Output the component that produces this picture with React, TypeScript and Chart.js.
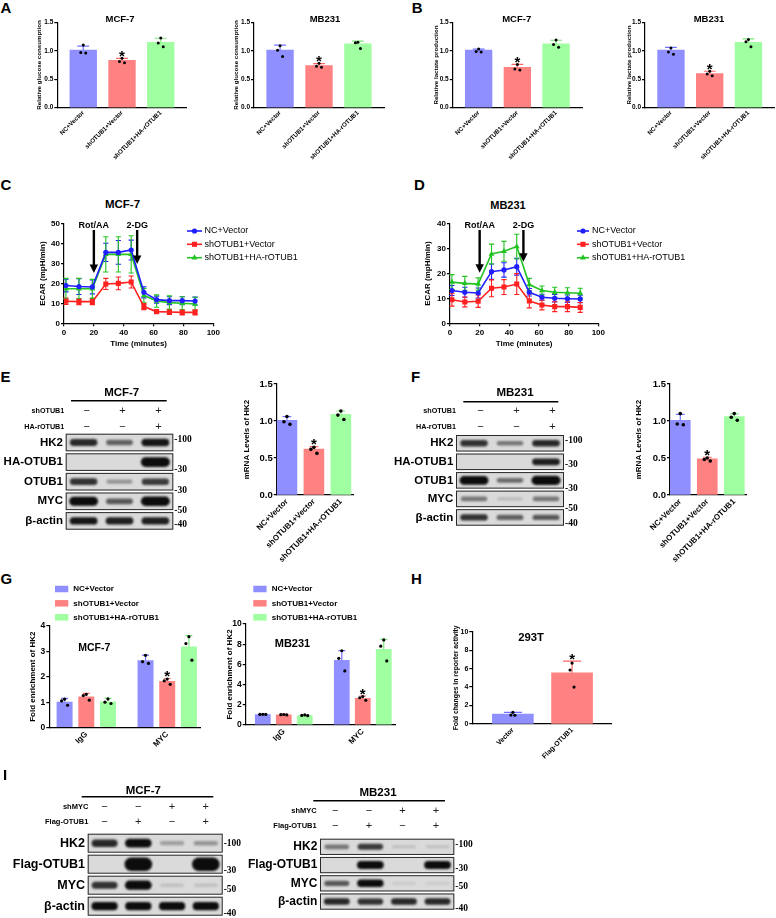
import React, { useEffect, useRef } from "react";
import { Chart, registerables } from "chart.js";

Chart.register(...registerables);

const SANS = "Arial, 'Liberation Sans', Helvetica, sans-serif";
const SERIF = "'Times New Roman', 'Liberation Serif', serif";

const BLUE = "#8f8fff", RED = "#ff8282", GREEN = "#a0ffa0";
const BLUE_E = "#7070ff", RED_E = "#ff6666", GREEN_E = "#7aea7a";
const L_BLUE = "#1f1fff", L_RED = "#ff2020", L_GREEN = "#22c322";

// ---------------- categories ----------------
const treatments = ["NC+Vector", "shOTUB1+Vector", "shOTUB1+HA-rOTUB1"];
const chipTargets = ["IgG", "MYC"];
const reporterGroups = ["Vector", "Flag-OTUB1"];
const sigVsNC = [false, true, false];

// ---------------- A: glucose consumption ----------------
const glucMCF7Mean = [1.01, 0.83, 1.15];
const glucMCF7SD = [0.07, 0.035, 0.07];
const glucMCF7Reps = [[1.1, 0.97, 0.96], [0.867, 0.81, 0.79], [1.224, 1.137, 1.072]];
const glucMB231Mean = [1.01, 0.74, 1.12];
const glucMB231SD = [0.09, 0.035, 0.05];
const glucMB231Reps = [[1.09, 1.01, 0.9], [0.78, 0.73, 0.71], [1.15, 1.14, 1.04]];

// ---------------- B: lactate production ----------------
const lacMCF7Mean = [1.01, 0.71, 1.12];
const lacMCF7SD = [0.02, 0.05, 0.065];
const lacMCF7Reps = [[1.03, 0.985, 0.98], [0.76, 0.68, 0.66], [1.19, 1.11, 1.06]];
const lacMB231Mean = [1.01, 0.6, 1.15];
const lacMB231SD = [0.05, 0.04, 0.06];
const lacMB231Reps = [[1.05, 0.98, 0.94], [0.64, 0.59, 0.56], [1.2, 1.16, 1.07]];

// ---------------- C / D: ECAR ----------------
const ecarTimes = [1.3, 10.0, 19.0, 28.0, 36.4, 45.0, 53.5, 62.0, 70.6, 79.2, 87.8];
const ecarMCF7NC = [19.0, 18.5, 18.3, 35.7, 35.7, 36.9, 15.6, 11.9, 11.4, 11.4, 11.2];
const ecarMCF7NCsd = [3.2, 4.0, 3.5, 4.6, 6.0, 5.0, 2.8, 1.8, 2.0, 2.0, 2.0];
const ecarMCF7Sh = [11.1, 10.9, 10.9, 19.8, 20.1, 20.8, 8.4, 5.9, 5.7, 5.5, 5.5];
const ecarMCF7Shsd = [1.6, 1.5, 1.5, 2.8, 3.2, 3.0, 1.5, 0.8, 1.3, 1.3, 1.3];
const ecarMCF7Re = [17.4, 17.4, 17.4, 34.7, 34.7, 34.7, 14.1, 11.2, 10.4, 10.1, 9.7];
const ecarMCF7Resd = [5.2, 5.2, 4.7, 8.9, 8.9, 9.4, 3.5, 3.1, 3.4, 3.3, 3.4];
const ecarMB231NC = [13.2, 12.5, 12.2, 20.8, 21.5, 22.8, 12.5, 10.5, 10.1, 9.9, 9.8];
const ecarMB231NCsd = [2.0, 2.0, 2.0, 3.1, 2.9, 3.4, 1.5, 1.2, 1.5, 1.5, 1.5];
const ecarMB231Sh = [9.5, 8.6, 8.9, 14.1, 14.6, 15.8, 9.0, 7.4, 6.7, 6.7, 6.4];
const ecarMB231Shsd = [2.6, 2.0, 2.5, 3.4, 3.0, 4.2, 2.8, 2.0, 2.0, 2.0, 2.0];
const ecarMB231Re = [16.6, 16.1, 15.8, 27.9, 29.0, 30.9, 15.6, 13.2, 12.5, 12.3, 12.1];
const ecarMB231Resd = [3.0, 2.8, 2.5, 4.0, 4.0, 5.0, 2.5, 1.8, 2.0, 2.0, 2.0];
const injections = ["Rot/AA", "2-DG"];
const injTimeMCF7 = [20, 49];
const injTimeMB231 = [20, 49.5];
const arrowTopMCF7 = [47, 47];
const arrowTipMCF7 = [25.3, 29.8];
const arrowTopMB231 = [37.6, 37.6];
const arrowTipMB231 = [20.4, 24.8];

// ---------------- E / F: HK2 mRNA ----------------
const hk2MCF7Mean = [1.01, 0.62, 1.09];
const hk2MCF7SD = [0.05, 0.035, 0.045];
const hk2MCF7Reps = [[1.06, 0.99, 0.955], [0.644, 0.617, 0.563], [1.135, 1.08, 1.02]];
const hk2MB231Mean = [1.01, 0.49, 1.06];
const hk2MB231SD = [0.08, 0.02, 0.035];
const hk2MB231Reps = [[1.1, 0.96, 0.95], [0.5, 0.48, 0.46], [1.1, 1.05, 1.01]];

// ---------------- G: ChIP ----------------
const chipMCF7NC = [1.02, 2.65];
const chipMCF7NCsd = [0.13, 0.2];
const chipMCF7NCreps = [[1.12, 1.05, 0.88], [2.84, 2.59, 2.52]];
const chipMCF7Sh = [1.22, 1.83];
const chipMCF7Shsd = [0.13, 0.1];
const chipMCF7Shreps = [[1.31, 1.26, 1.08], [1.91, 1.84, 1.7]];
const chipMCF7Re = [1.03, 3.18];
const chipMCF7Resd = [0.12, 0.43];
const chipMCF7Rereps = [[1.13, 1.0, 0.95], [3.57, 3.3, 2.65]];
const chipMB231NC = [1.06, 6.44];
const chipMB231NCsd = [0.02, 0.92];
const chipMB231NCreps = [[1.06, 1.05, 1.05], [7.35, 6.6, 5.35]];
const chipMB231Sh = [1.05, 2.67];
const chipMB231Shsd = [0.03, 0.2];
const chipMB231Shreps = [[1.04, 1.02, 1.0], [2.82, 2.7, 2.45]];
const chipMB231Re = [0.96, 7.52];
const chipMB231Resd = [0.05, 0.96];
const chipMB231Rereps = [[1.0, 0.95, 0.92], [8.42, 7.8, 6.34]];
const chipSig = [false, true];

// ---------------- H: reporter ----------------
const reporterMean = [1.08, 5.55];
const reporterSD = [0.18, 1.27];
const reporterReps = [[1.26, 0.97, 0.95], [6.6, 5.85, 4.0]];
const reporterSig = [false, true];

// ---------------- Western blots ----------------
const blotERows = ["HK2", "HA-OTUB1", "OTUB1", "MYC", "β-actin"];
const blotEBands = [[0.85, 0.55, 0.95], [0, 0, 1.4], [0.8, 0.3, 0.75], [1.3, 0.6, 1.35], [0.95, 0.9, 0.9]];
const blotEMw = ["100", "30", "30", "50", "40"];
const blotEMwPos = [0.35, 1.87, 2.97, 3.98, 4.71];
const blotFRows = ["HK2", "HA-OTUB1", "OTUB1", "MYC", "β-actin"];
const blotFBands = [[0.8, 0.45, 0.85], [0, 0, 0.9], [1.3, 0.5, 1.4], [0.45, 0.12, 0.45], [0.8, 0.55, 0.6]];
const blotFMw = ["100", "30", "30", "50", "40"];
const blotFMwPos = [0.36, 1.67, 2.93, 4.0, 4.82];
const shOTUB1Signs = ["−", "+", "+"];
const haOTUB1Signs = ["−", "−", "+"];
const blotIRows = ["HK2", "Flag-OTUB1", "MYC", "β-actin"];
const blotIMCF7Bands = [[0.85, 1.1, 0.25, 0.3], [0, 2.0, 0, 2.0], [0.8, 1.2, 0.1, 0.1], [1.0, 1.0, 1.0, 1.0]];
const blotIMCF7Mw = ["100", "30", "50", "40"];
const blotIMCF7MwPos = [0.5, 1.78, 2.73, 3.87];
const blotIMB231Bands = [[0.45, 0.75, 0.1, 0.1], [0, 1.2, 0, 1.2], [0.6, 1.1, 0.06, 0.06], [0.85, 0.8, 0.85, 0.85]];
const blotIMB231Mw = ["100", "30", "50", "40"];
const blotIMB231MwPos = [0.4, 1.68, 2.68, 3.87];
const shMYCSigns = ["−", "−", "+", "+"];
const flagOTUB1Signs = ["−", "+", "−", "+"];

// =====================================================================

function font(size: number, bold = true, fam = SANS) {
  return `${bold ? "bold " : ""}${size}px ${fam}`;
}

function barChart(o: any) {
  const [bl, bt, br, bb] = o.box;
  const [al, at, ar, ab] = o.area;
  const yW = al - bl, xH = bb - ab;
  const decor = {
    id: "barDecor",
    afterDatasetsDraw(chart: any) {
      const ctx = chart.ctx;
      const ys = chart.scales.y;
      o.sets.forEach((d: any, di: number) => {
        const meta = chart.getDatasetMeta(di);
        meta.data.forEach((bar: any, i: number) => {
          const x = bar.x, w = bar.width;
          const m = d.mean[i], s = d.sd[i];
          const yM = ys.getPixelForValue(m), yT = ys.getPixelForValue(m + s);
          const edge = Array.isArray(d.edge) ? d.edge[i] : d.edge;
          ctx.save();
          ctx.strokeStyle = edge;
          ctx.lineWidth = 1.2;
          ctx.beginPath();
          ctx.moveTo(x, yM);
          ctx.lineTo(x, yT);
          const cw = w * 0.22;
          ctx.moveTo(x - cw, yT);
          ctx.lineTo(x + cw, yT);
          ctx.stroke();
          ctx.fillStyle = "#000";
          const jit = [0, -o.jitter, o.jitter];
          let top = yT;
          d.reps[i].forEach((v: number, k: number) => {
            const py = ys.getPixelForValue(v);
            top = Math.min(top, py);
            ctx.beginPath();
            ctx.arc(x + jit[k % 3], py, o.dotR, 0, Math.PI * 2);
            ctx.fill();
          });
          if (d.sig && d.sig[i]) {
            ctx.font = font(o.starSize);
            ctx.textAlign = "center";
            ctx.textBaseline = "alphabetic";
            ctx.fillText("*", x, top - 6 + 0.57 * o.starSize);
          }
          ctx.restore();
        });
      });
      if (o.legend) {
        const L = o.legend;
        ctx.save();
        ctx.font = font(L.size);
        ctx.textAlign = "left";
        ctx.textBaseline = "middle";
        o.sets.forEach((d: any, di: number) => {
          const y = L.ys[di] - bt;
          ctx.fillStyle = d.color;
          ctx.fillRect(L.boxX - bl, y - L.boxH / 2, L.boxW, L.boxH);
          ctx.fillStyle = "#000";
          ctx.fillText(d.label, L.textX - bl, y);
        });
        ctx.restore();
      }
    },
  };
  return {
    type: "bar",
    data: {
      datasets: o.sets.map((d: any) => ({
        label: d.label || "",
        data: d.mean.map((v: number, i: number) => ({ x: i, y: v })),
        backgroundColor: d.color,
        borderWidth: 0,
        ...(o.barThickness
          ? { barThickness: o.barThickness }
          : { categoryPercentage: o.catPct, barPercentage: o.barPct }),
      })),
    },
    options: {
      responsive: false,
      animation: false,
      events: [],
      layout: { padding: { left: 0, top: at - bt, right: br - ar, bottom: 0 } },
      plugins: { legend: { display: false }, tooltip: { enabled: false }, title: { display: false } },
      scales: {
        x: {
          type: "linear",
          min: o.xMin,
          max: o.xMax,
          offset: false,
          afterBuildTicks: (ax: any) => {
            ax.ticks = o.labels.map((_: any, i: number) => ({ value: i }));
          },
          afterFit: (ax: any) => {
            ax.height = xH;
            ax.paddingLeft = 0;
            ax.paddingRight = 0;
          },
          ticks: {
            autoSkip: false,
            minRotation: 45,
            maxRotation: 45,
            padding: o.xPad,
            color: "#000",
            font: { family: SANS, size: o.xSize, weight: "bold" },
            callback: (v: any) => o.labels[Math.round(v)] ?? "",
          },
          grid: { display: false, drawTicks: false },
          border: { display: true, color: "#000", width: 1.2 },
        },
        y: {
          type: "linear",
          min: 0,
          max: o.yMax,
          afterFit: (ax: any) => {
            ax.width = yW;
            ax.paddingTop = 0;
            ax.paddingBottom = 0;
          },
          ticks: {
            stepSize: o.yStep,
            padding: 1,
            color: "#000",
            font: { family: SANS, size: o.tickSize, weight: "bold" },
            callback: (v: any) => Number(v).toFixed(o.dec),
          },
          grid: { display: true, drawOnChartArea: false, drawTicks: true, tickLength: 3, color: "#000", lineWidth: 1.2 },
          border: { display: true, color: "#000", width: 1.2 },
          title: {
            display: true,
            text: o.yTitle,
            padding: 0,
            color: "#000",
            font: { family: SANS, size: o.yTitleSize, weight: "bold" },
          },
        },
      },
    },
    plugins: [decor],
  };
}

function drawMarker(ctx: any, style: string, x: number, y: number, r: number) {
  ctx.beginPath();
  if (style === "circle") {
    ctx.arc(x, y, r, 0, Math.PI * 2);
  } else if (style === "rect") {
    const s = r * Math.SQRT1_2;
    ctx.rect(x - s, y - s, 2 * s, 2 * s);
  } else {
    let a = 0;
    ctx.moveTo(x + Math.sin(a) * r, y - Math.cos(a) * r);
    a += (2 * Math.PI) / 3;
    ctx.lineTo(x + Math.sin(a) * r, y - Math.cos(a) * r);
    a += (2 * Math.PI) / 3;
    ctx.lineTo(x + Math.sin(a) * r, y - Math.cos(a) * r);
    ctx.closePath();
  }
  ctx.fill();
}

function lineChart(o: any) {
  const [bl, bt, br, bb] = o.box;
  const [al, at, ar, ab] = o.area;
  const decor = {
    id: "lineDecor",
    beforeDatasetsDraw(chart: any) {
      const ctx = chart.ctx;
      const ys = chart.scales.y;
      o.series.forEach((s: any, si: number) => {
        const meta = chart.getDatasetMeta(si);
        ctx.save();
        ctx.strokeStyle = s.color;
        ctx.lineWidth = 1.1;
        meta.data.forEach((pt: any, i: number) => {
          const v = s.values[i], e = s.sd[i];
          const y1 = ys.getPixelForValue(v + e), y2 = ys.getPixelForValue(v - e);
          ctx.beginPath();
          ctx.moveTo(pt.x, y1);
          ctx.lineTo(pt.x, y2);
          ctx.moveTo(pt.x - 2.6, y1);
          ctx.lineTo(pt.x + 2.6, y1);
          ctx.moveTo(pt.x - 2.6, y2);
          ctx.lineTo(pt.x + 2.6, y2);
          ctx.stroke();
        });
        ctx.restore();
      });
    },
    afterDraw(chart: any) {
      const ctx = chart.ctx;
      const xs = chart.scales.x, ys = chart.scales.y;
      ctx.save();
      o.arrowLabels.forEach((lab: string, k: number) => {
        const x = xs.getPixelForValue(o.arrowX[k]);
        const y0 = ys.getPixelForValue(o.arrowTop[k]);
        const y1 = ys.getPixelForValue(o.arrowTip[k]);
        ctx.strokeStyle = "#000";
        ctx.fillStyle = "#000";
        ctx.lineWidth = 2.4;
        ctx.beginPath();
        ctx.moveTo(x, y0);
        ctx.lineTo(x, y1 - 7);
        ctx.stroke();
        ctx.beginPath();
        ctx.moveTo(x - 4.2, y1 - 8.5);
        ctx.lineTo(x + 4.2, y1 - 8.5);
        ctx.lineTo(x, y1);
        ctx.closePath();
        ctx.fill();
        ctx.font = font(9);
        ctx.textAlign = "center";
        ctx.textBaseline = "middle";
        ctx.fillText(lab, x, y0 - 4.5);
      });
      const L = o.legend;
      o.series.forEach((s: any, i: number) => {
        const y = L.ys[i] - bt;
        ctx.strokeStyle = s.color;
        ctx.fillStyle = s.color;
        ctx.lineWidth = 1.6;
        ctx.beginPath();
        ctx.moveTo(L.x0 - bl, y);
        ctx.lineTo(L.x1 - bl, y);
        ctx.stroke();
        drawMarker(ctx, s.style, (L.x0 + L.x1) / 2 - bl, y, s.r);
        ctx.fillStyle = "#000";
        ctx.font = font(9, false);
        ctx.textAlign = "left";
        ctx.textBaseline = "middle";
        ctx.fillText(s.label, L.tx - bl, y);
      });
      ctx.restore();
    },
  };
  const tickFont = { family: SANS, size: 8, weight: "bold" };
  return {
    type: "line",
    data: {
      datasets: o.series.map((s: any) => ({
        label: s.label,
        data: o.times.map((t: number, i: number) => ({ x: t, y: s.values[i] })),
        borderColor: s.color,
        backgroundColor: s.color,
        pointBackgroundColor: s.color,
        borderWidth: 1.6,
        pointStyle: s.style,
        pointRadius: s.r,
        pointBorderWidth: 0,
        tension: 0,
        fill: false,
      })),
    },
    options: {
      responsive: false,
      animation: false,
      events: [],
      layout: { padding: { left: 0, top: at - bt, right: br - ar, bottom: 0 } },
      plugins: { legend: { display: false }, tooltip: { enabled: false } },
      scales: {
        x: {
          type: "linear",
          min: 0,
          max: 100,
          afterFit: (ax: any) => {
            ax.height = bb - ab;
            ax.paddingLeft = 0;
            ax.paddingRight = 0;
          },
          ticks: { stepSize: 20, padding: 1.6, color: "#000", font: tickFont },
          grid: { display: true, drawOnChartArea: false, drawTicks: true, tickLength: 3, color: "#000", lineWidth: 1.2 },
          border: { display: true, color: "#000", width: 1.2 },
          title: { display: true, text: "Time (minutes)", padding: 0, color: "#000", font: tickFont },
        },
        y: {
          type: "linear",
          min: 0,
          max: o.yMax,
          afterFit: (ax: any) => {
            ax.width = al - bl;
            ax.paddingTop = 0;
            ax.paddingBottom = 0;
          },
          ticks: { stepSize: 10, padding: 1, color: "#000", font: tickFont },
          grid: { display: true, drawOnChartArea: false, drawTicks: true, tickLength: 3, color: "#000", lineWidth: 1.2 },
          border: { display: true, color: "#000", width: 1.2 },
          title: { display: true, text: "ECAR (mpH/min)", padding: 0, color: "#000", font: tickFont },
        },
      },
    },
    plugins: [decor],
  };
}

function blotChart(o: any) {
  const [bl, bt, br, bb] = o.box;
  const [al, at, ar, ab] = o.area;
  const nL = o.bands[0].length, nR = o.rows.length;
  const pts: any[] = [];
  o.bands.forEach((row: number[], r: number) => row.forEach((v: number, j: number) => pts.push({ x: j, y: r + 0.5, v })));
  const draw = {
    id: "blotDraw",
    afterDatasetsDraw(chart: any) {
      const ctx = chart.ctx;
      const xs = chart.scales.x, ys = chart.scales.y, ca = chart.chartArea;
      const P = (px: number) => px - bl, Q = (py: number) => py - bt;
      ctx.save();
      ctx.fillStyle = "#000";
      ctx.textBaseline = "middle";
      ctx.font = font(o.titleSize);
      ctx.textAlign = "center";
      ctx.fillText(o.title, P(o.titleX), Q(o.titleY));
      ctx.strokeStyle = "#000";
      ctx.lineWidth = 1.4;
      ctx.beginPath();
      ctx.moveTo(P(o.lineX[0]), Q(o.lineY));
      ctx.lineTo(P(o.lineX[1]), Q(o.lineY));
      ctx.stroke();
      o.signRows.forEach((sr: any) => {
        ctx.fillStyle = "#000";
        ctx.font = font(o.signLabelSize);
        ctx.textAlign = "right";
        ctx.fillText(sr.label, P(o.signLabelX), Q(sr.y));
        ctx.fillStyle = "#222";
        ctx.font = font(o.signSize, false);
        ctx.textAlign = "center";
        sr.signs.forEach((s: string, j: number) => ctx.fillText(s, xs.getPixelForValue(j) + o.signDx, Q(sr.y)));
      });
      o.rows.forEach((name: string, r: number) => {
        const y0 = ys.getPixelForValue(r) + 1, y1 = ys.getPixelForValue(r + 1) - 1;
        ctx.fillStyle = "#dadada";
        ctx.fillRect(ca.left, y0, ca.right - ca.left, y1 - y0);
        ctx.strokeStyle = "#2a2a2a";
        ctx.lineWidth = 1;
        ctx.strokeRect(ca.left + 0.5, y0 + 0.5, ca.right - ca.left - 1, y1 - y0 - 1);
        ctx.fillStyle = "#000";
        ctx.font = font(o.rowSize);
        ctx.textAlign = "right";
        ctx.fillText(name, ca.left - 2.7, (y0 + y1) / 2);
      });
      const laneW = Math.abs(xs.getPixelForValue(1) - xs.getPixelForValue(0));
      const rowH = Math.abs(ys.getPixelForValue(1) - ys.getPixelForValue(0));
      ctx.filter = "blur(1.1px)";
      pts.forEach((p: any) => {
        if (p.v <= 0) return;
        const cx = xs.getPixelForValue(p.x), cy = ys.getPixelForValue(p.y);
        const w = laneW * (0.7 + 0.08 * Math.min(p.v, 1.5));
        const h = Math.min(rowH * 0.72, rowH * (0.14 + 0.25 * p.v));
        const a = Math.min(1, Math.pow(p.v, 0.9));
        ctx.fillStyle = `rgba(12,12,12,${a})`;
        const rr = h / 2;
        ctx.beginPath();
        ctx.moveTo(cx - w / 2 + rr, cy - h / 2);
        ctx.lineTo(cx + w / 2 - rr, cy - h / 2);
        ctx.arc(cx + w / 2 - rr, cy, rr, -Math.PI / 2, Math.PI / 2);
        ctx.lineTo(cx - w / 2 + rr, cy + h / 2);
        ctx.arc(cx - w / 2 + rr, cy, rr, Math.PI / 2, (3 * Math.PI) / 2);
        ctx.closePath();
        ctx.fill();
      });
      ctx.filter = "none";
      ctx.fillStyle = "#000";
      ctx.font = font(o.mwSize, true, SERIF);
      ctx.textAlign = "left";
      ctx.textBaseline = "middle";
      o.mw.forEach((m: string, k: number) => ctx.fillText("-" + m, ca.right + 1, ys.getPixelForValue(o.mwPos[k])));
      ctx.restore();
    },
  };
  return {
    type: "scatter",
    data: { datasets: [{ data: pts, pointRadius: 0 }] },
    options: {
      responsive: false,
      animation: false,
      events: [],
      layout: { padding: { left: al - bl, top: at - bt, right: br - ar, bottom: bb - ab } },
      plugins: { legend: { display: false }, tooltip: { enabled: false } },
      scales: {
        x: { type: "linear", display: false, min: -0.5, max: nL - 0.5 },
        y: { type: "linear", display: false, min: 0, max: nR, reverse: true },
      },
    },
    plugins: [draw],
  };
}

function ChartBox({ box, make }: { box: number[]; make: () => any }) {
  const ref = useRef<HTMLCanvasElement>(null);
  useEffect(() => {
    const c = new Chart(ref.current as any, make());
    return () => c.destroy();
  }, []);
  const [l, t, r, b] = box;
  return (
    <canvas
      ref={ref}
      width={r - l}
      height={b - t}
      style={{ position: "absolute", left: l, top: t, width: r - l, height: b - t }}
    />
  );
}

function Txt({ x, y, s, size, align = "left" }: any) {
  const tx = align === "center" ? "-50%" : align === "right" ? "-100%" : "0";
  return (
    <div
      style={{
        position: "absolute",
        left: x,
        top: y,
        transform: `translate(${tx}, -50%)`,
        fontSize: size,
        fontWeight: 700,
        fontFamily: SANS,
        lineHeight: 1,
        whiteSpace: "nowrap",
        color: "#000",
      }}
    >
      {s}
    </div>
  );
}

const triColors = [BLUE, RED, GREEN];
const triEdges = [BLUE_E, RED_E, GREEN_E];

const smallBar = {
  labels: treatments,
  xMin: -0.67,
  xMax: 2.67,
  yMax: 1.5,
  yStep: 0.5,
  dec: 1,
  barThickness: 26.7,
  yTitleSize: 6.2,
  tickSize: 6.5,
  xSize: 6.2,
  xPad: 1.5,
  dotR: 1.5,
  jitter: 2.5,
  starSize: 15,
};

const mrnaBar = {
  labels: treatments,
  xMin: -0.38,
  xMax: 2.46,
  yMax: 1.5,
  yStep: 0.5,
  dec: 1,
  barThickness: 20,
  yTitle: "mRNA Levels of HK2",
  yTitleSize: 8,
  tickSize: 9.5,
  xSize: 8,
  xPad: 2,
  dotR: 1.8,
  jitter: 3,
  starSize: 15,
};

const chipCommon = {
  labels: chipTargets,
  dec: 0,
  yTitle: "Fold enrichment of HK2",
  yTitleSize: 8,
  tickSize: 8.5,
  xSize: 8,
  xPad: 2,
  dotR: 1.6,
  jitter: 3,
  starSize: 15,
};

function tri(mean: number[], sd: number[], reps: number[][]) {
  return [{ mean, sd, reps, sig: sigVsNC, color: triColors, edge: triEdges }];
}

function chipSets(nc: any[], sh: any[], re: any[]) {
  return [
    { label: treatments[0], mean: nc[0], sd: nc[1], reps: nc[2], color: BLUE, edge: BLUE_E },
    { label: treatments[1], mean: sh[0], sd: sh[1], reps: sh[2], sig: chipSig, color: RED, edge: RED_E },
    { label: treatments[2], mean: re[0], sd: re[1], reps: re[2], color: GREEN, edge: GREEN_E },
  ];
}

function ecarSeries(nc: number[], ncsd: number[], sh: number[], shsd: number[], re: number[], resd: number[]) {
  return [
    { label: treatments[0], values: nc, sd: ncsd, color: L_BLUE, style: "circle", r: 2.6 },
    { label: treatments[1], values: sh, sd: shsd, color: L_RED, style: "rect", r: 3.6 },
    { label: treatments[2], values: re, sd: resd, color: L_GREEN, style: "triangle", r: 3.4 },
  ];
}

export default function App() {
  const letters: any[] = [
    ["A", 0.5, 7.2], ["B", 411.7, 7.2], ["C", 0.5, 184], ["D", 414, 184],
    ["E", 0.5, 376], ["F", 411, 376], ["G", 0.5, 577.5], ["H", 411, 578], ["I", 3, 774],
  ];
  const titles: any[] = [
    ["MCF-7", 120, 19.3, 9.5], ["MB231", 325, 19.3, 9.5], ["MCF-7", 516.7, 19, 9.5], ["MB231", 709, 19, 9.5],
    ["MCF-7", 122.5, 205, 11.5], ["MB231", 508, 205, 11], ["MCF-7", 94.3, 646.7, 10.5],
    ["MB231", 292.5, 643.3, 11], ["293T", 531, 638.3, 11.3],
  ];
  return (
    <div style={{ position: "absolute", left: 0, top: 0, width: 776, height: 918, background: "#fff", overflow: "hidden" }}>
      {/* A */}
      <ChartBox box={[36, 10, 192, 178]} make={() => barChart({ ...smallBar, box: [36, 10, 192, 178], area: [57.3, 22.3, 186.7, 107.7], yTitle: "Relative glucose consumption", sets: tri(glucMCF7Mean, glucMCF7SD, glucMCF7Reps) })} />
      <ChartBox box={[233, 10, 390, 178]} make={() => barChart({ ...smallBar, box: [233, 10, 390, 178], area: [254, 22.3, 384, 107.7], yTitle: "Relative glucose consumption", sets: tri(glucMB231Mean, glucMB231SD, glucMB231Reps) })} />
      {/* B */}
      <ChartBox box={[433, 10, 590, 178]} make={() => barChart({ ...smallBar, box: [433, 10, 590, 178], area: [452.7, 22.3, 582, 107.7], yTitle: "Relative lactate production", sets: tri(lacMCF7Mean, lacMCF7SD, lacMCF7Reps) })} />
      <ChartBox box={[626, 10, 776, 178]} make={() => barChart({ ...smallBar, box: [626, 10, 776, 178], area: [645, 22.3, 774.4, 107.7], yTitle: "Relative lactate production", sets: tri(lacMB231Mean, lacMB231SD, lacMB231Reps) })} />
      {/* C */}
      <ChartBox box={[38, 214, 300, 349]} make={() => lineChart({ box: [38, 214, 300, 349], area: [64, 224, 213.3, 323.3], yMax: 50, times: ecarTimes, series: ecarSeries(ecarMCF7NC, ecarMCF7NCsd, ecarMCF7Sh, ecarMCF7Shsd, ecarMCF7Re, ecarMCF7Resd), arrowLabels: injections, arrowX: injTimeMCF7, arrowTop: arrowTopMCF7, arrowTip: arrowTipMCF7, legend: { x0: 187, x1: 202, tx: 204.5, ys: [231, 244.3, 257.7] } })} />
      {/* D */}
      <ChartBox box={[423, 214, 690, 349]} make={() => lineChart({ box: [423, 214, 690, 349], area: [450, 224, 598.3, 323.3], yMax: 40, times: ecarTimes, series: ecarSeries(ecarMB231NC, ecarMB231NCsd, ecarMB231Sh, ecarMB231Shsd, ecarMB231Re, ecarMB231Resd), arrowLabels: injections, arrowX: injTimeMB231, arrowTop: arrowTopMB231, arrowTip: arrowTipMB231, legend: { x0: 577, x1: 589, tx: 592, ys: [231, 244.3, 257.7] } })} />
      {/* E */}
      <ChartBox box={[0, 386, 200, 540]} make={() => blotChart({ box: [0, 386, 200, 540], area: [65.7, 432.7, 173.3, 530.7], rows: blotERows, bands: blotEBands, mw: blotEMw, mwPos: blotEMwPos, title: "MCF-7", titleX: 121.7, titleY: 393.3, titleSize: 11.5, lineX: [71, 166.7], lineY: 400.7, signRows: [{ label: "shOTUB1", signs: shOTUB1Signs, y: 411 }, { label: "HA-rOTUB1", signs: haOTUB1Signs, y: 426.7 }], signLabelX: 64.3, signLabelSize: 7.2, signSize: 11, signDx: 3, rowSize: 11.5, mwSize: 9.5 })} />
      <ChartBox box={[242, 376, 362, 570]} make={() => barChart({ ...mrnaBar, box: [242, 376, 362, 570], area: [276.7, 384, 353.3, 495], sets: tri(hk2MCF7Mean, hk2MCF7SD, hk2MCF7Reps) })} />
      {/* F */}
      <ChartBox box={[390, 386, 602, 540]} make={() => blotChart({ box: [390, 386, 602, 540], area: [456, 434, 564, 526.7], rows: blotFRows, bands: blotFBands, mw: blotFMw, mwPos: blotFMwPos, title: "MB231", titleX: 515, titleY: 393.3, titleSize: 11.5, lineX: [463.3, 558.3], lineY: 401.7, signRows: [{ label: "shOTUB1", signs: shOTUB1Signs, y: 411 }, { label: "HA-rOTUB1", signs: haOTUB1Signs, y: 426.7 }], signLabelX: 456, signLabelSize: 7.2, signSize: 11, signDx: 6.5, rowSize: 11.5, mwSize: 9.5 })} />
      <ChartBox box={[634, 376, 760, 570]} make={() => barChart({ ...mrnaBar, box: [634, 376, 760, 570], area: [670, 384, 746.7, 495], sets: tri(hk2MB231Mean, hk2MB231SD, hk2MB231Reps) })} />
      {/* G */}
      <ChartBox box={[28, 580, 222, 762]} make={() => barChart({ ...chipCommon, box: [28, 580, 222, 762], area: [49.3, 625.7, 200, 727.7], xMin: -0.457, xMax: 1.405, yMax: 4, yStep: 1, catPct: 0.804, barPct: 0.737, sets: chipSets([chipMCF7NC, chipMCF7NCsd, chipMCF7NCreps], [chipMCF7Sh, chipMCF7Shsd, chipMCF7Shreps], [chipMCF7Re, chipMCF7Resd, chipMCF7Rereps]), legend: { boxX: 55, boxW: 13.3, boxH: 6.5, textX: 73.3, ys: [589, 603.3, 617.3], size: 8 } })} />
      <ChartBox box={[225, 580, 402, 762]} make={() => barChart({ ...chipCommon, box: [225, 580, 402, 762], area: [245.7, 624, 395, 725], xMin: -0.482, xMax: 1.408, yMax: 10, yStep: 2, catPct: 0.797, barPct: 0.75, sets: chipSets([chipMB231NC, chipMB231NCsd, chipMB231NCreps], [chipMB231Sh, chipMB231Shsd, chipMB231Shreps], [chipMB231Re, chipMB231Resd, chipMB231Rereps]), legend: { boxX: 253.3, boxW: 13.3, boxH: 6.5, textX: 271.7, ys: [589, 603.3, 617.3], size: 8 } })} />
      {/* H */}
      <ChartBox box={[452, 622, 625, 778]} make={() => barChart({ labels: reporterGroups, box: [452, 622, 625, 778], area: [472.3, 631.7, 611.7, 724], xMin: -0.686, xMax: 1.67, yMax: 10, yStep: 2, dec: 0, barThickness: 41, sets: [{ mean: reporterMean, sd: reporterSD, reps: reporterReps, sig: reporterSig, color: [BLUE, RED], edge: [BLUE_E, RED_E] }], yTitle: "Fold changes in reporter activity", yTitleSize: 6.8, tickSize: 7, xSize: 7, xPad: 2, dotR: 1.6, jitter: 2, starSize: 15 })} />
      {/* I */}
      <ChartBox box={[0, 780, 246, 918]} make={() => blotChart({ box: [0, 780, 246, 918], area: [87.7, 832.7, 222.7, 916.7], rows: blotIRows, bands: blotIMCF7Bands, mw: blotIMCF7Mw, mwPos: blotIMCF7MwPos, title: "MCF-7", titleX: 143.3, titleY: 791, titleSize: 11.5, lineX: [81.7, 213.3], lineY: 796.7, signRows: [{ label: "shMYC", signs: shMYCSigns, y: 806.7 }, { label: "Flag-OTUB1", signs: flagOTUB1Signs, y: 822.3 }], signLabelX: 88.3, signLabelSize: 7.5, signSize: 11, signDx: 0, rowSize: 12.5, mwSize: 9.5 })} />
      <ChartBox box={[240, 780, 490, 918]} make={() => blotChart({ box: [240, 780, 490, 918], area: [320, 837.7, 454.3, 910.7], rows: blotIRows, bands: blotIMB231Bands, mw: blotIMB231Mw, mwPos: blotIMB231MwPos, title: "MB231", titleX: 378, titleY: 793.3, titleSize: 11.5, lineX: [313.3, 445], lineY: 800.7, signRows: [{ label: "shMYC", signs: shMYCSigns, y: 811 }, { label: "Flag-OTUB1", signs: flagOTUB1Signs, y: 825.7 }], signLabelX: 316.7, signLabelSize: 7.5, signSize: 11, signDx: -1.5, rowSize: 12, mwSize: 9.5 })} />

      {letters.map(([s, x, y], i) => (
        <Txt key={"l" + i} s={s} x={x} y={y} size={15} />
      ))}
      {titles.map(([s, x, y, size], i) => (
        <Txt key={"t" + i} s={s} x={x} y={y} size={size} align="center" />
      ))}
    </div>
  );
}
